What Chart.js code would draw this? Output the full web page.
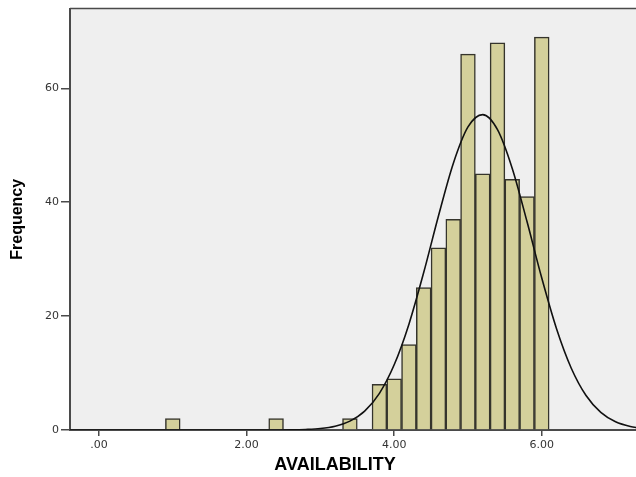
<!DOCTYPE html>
<html>
<head>
<meta charset="utf-8">
<script src="https://cdn.jsdelivr.net/npm/chart.js@4.4.1/dist/chart.umd.min.js"></script>
<style>
  html, body { margin: 0; padding: 0; background: #fff; }
  #wrap { width: 636px; height: 477px; }
</style>
</head>
<body>
<div id="wrap"><canvas id="hist"></canvas></div>
<script>
// histogram bins (bin centres, width 0.2) and counts
const binCenters = [1.0, 2.4, 3.4, 3.8, 4.0, 4.2, 4.4, 4.6, 4.8, 5.0, 5.2, 5.4, 5.6, 5.8, 6.0];
const counts     = [2,   2,   2,   8,   9,   15,  25,  32,  37,  66,  45,  68,  44,  41,  69];

// normal curve
const curveX = [-0.4, 2.0, 2.2, 2.4, 2.6, 2.8, 3.0, 3.2, 3.4, 3.6, 3.8, 4.0, 4.2, 4.4, 4.6, 4.8, 5.0,
                5.2, 5.4, 5.6, 5.8, 6.0, 6.2, 6.4, 6.6, 6.8, 7.0, 7.2, 7.4];
const curveY = [0, 0, 0, 0.01, 0.03, 0.10, 0.26, 0.67, 1.56, 3.31, 6.44, 11.45, 18.59, 27.65, 37.59, 46.77, 53.22,
                55.39, 52.75, 45.94, 36.60, 26.68, 17.78, 10.85, 6.05, 3.09, 1.44, 0.62, 0.24];

const xTicks = [0, 2, 4, 6];
const yTicks = [0, 20, 40, 60];

const axisColor = '#4a4a4a';

const plotBg = {
  id: 'plotBg',
  beforeDraw(chart) {
    const { ctx, chartArea: a } = chart;
    ctx.save();
    ctx.fillStyle = '#efefef';
    ctx.fillRect(a.left, a.top, a.right - a.left, a.bottom - a.top);
    ctx.restore();
  },
  afterDraw(chart) {
    const { ctx, chartArea: a } = chart;
    ctx.save();
    // top frame line
    ctx.strokeStyle = axisColor;
    ctx.lineWidth = 1.5;
    ctx.beginPath();
    ctx.moveTo(a.left, a.top);
    ctx.lineTo(a.right, a.top);
    ctx.stroke();
    // x axis title
    ctx.fillStyle = '#000';
    ctx.font = 'bold 18px "Liberation Sans Narrow", "Arial Narrow", "Liberation Sans", sans-serif';
    ctx.textAlign = 'center';
    ctx.textBaseline = 'middle';
    ctx.fillText('AVAILABILITY', 335, 465);
    ctx.restore();
  }
};

const bars = binCenters.map((x, i) => ({ x: x, y: counts[i] }));
const curve = curveX.map((x, i) => ({ x: x, y: curveY[i] }));

new Chart(document.getElementById('hist'), {
  type: 'bar',
  plugins: [plotBg],
  data: {
    datasets: [
      {
        type: 'line',
        data: curve,
        borderColor: '#111',
        borderWidth: 1.6,
        pointRadius: 0,
        cubicInterpolationMode: 'monotone',
        fill: false,
        order: 0
      },
      {
        type: 'bar',
        data: bars,
        backgroundColor: '#d4d09b',
        borderColor: '#35342c',
        borderWidth: 1.5,
        barPercentage: 1,
        categoryPercentage: 1,
        order: 1
      }
    ]
  },
  options: {
    responsive: true,
    maintainAspectRatio: false,
    animation: false,
    layout: { padding: { top: 7, right: 0, left: 0, bottom: 0 } },
    plugins: {
      legend: { display: false },
      tooltip: { enabled: false }
    },
    scales: {
      x: {
        type: 'linear',
        offset: false,
        min: -0.393,
        max: 7.277,
        afterFit: (s) => { s.height = 47; },
        afterBuildTicks: (s) => { s.ticks = xTicks.map(v => ({ value: v })); },
        grid: { offset: false, drawOnChartArea: false, tickLength: 6, color: axisColor, lineWidth: 1.5 },
        border: { color: axisColor, width: 2 },
        ticks: {
          color: '#333',
          font: { family: 'DejaVu Sans', size: 11 },
          padding: 3,
          maxRotation: 0,
          callback: (v) => v === 0 ? '.00' : v.toFixed(2)
        }
      },
      y: {
        min: 0,
        max: 74,
        afterFit: (s) => { s.width = 70; },
        afterBuildTicks: (s) => { s.ticks = yTicks.map(v => ({ value: v })); },
        grid: { drawOnChartArea: false, tickLength: 9, color: axisColor, lineWidth: 1.5 },
        border: { color: axisColor, width: 2 },
        ticks: {
          color: '#333',
          font: { family: 'DejaVu Sans', size: 11 },
          padding: 2
        },
        title: {
          display: true,
          text: 'Frequency',
          color: '#000',
          font: { family: '"Liberation Sans Narrow", "Arial Narrow", "Liberation Sans", sans-serif', size: 16, weight: 'bold' },
          padding: { top: 8, bottom: 0 }
        }
      }
    }
  }
});
</script>
</body>
</html>
